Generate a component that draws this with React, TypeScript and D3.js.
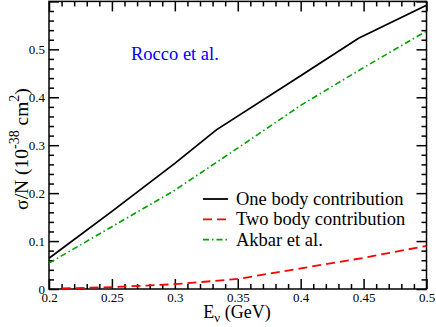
import { useEffect, useRef } from 'react';
import * as d3 from 'd3';

// One body contribution (Rocco et al.)
const oneBodyE = [0.2, 0.25, 0.3, 0.333, 0.4, 0.446, 0.5];
const oneBody = [0.064, 0.162, 0.262, 0.332, 0.445, 0.523, 0.592];

// Two body contribution
const twoBodyE = [0.21, 0.25, 0.3, 0.35, 0.4, 0.45, 0.5];
const twoBody = [0.001, 0.004, 0.01, 0.021, 0.043, 0.065, 0.09];

// Akbar et al.
const akbarE = [0.2, 0.25, 0.3, 0.35, 0.4, 0.45, 0.5];
const akbar = [0.054, 0.13, 0.206, 0.294, 0.383, 0.462, 0.538];

const xMajor = [0.2, 0.25, 0.3, 0.35, 0.4, 0.45, 0.5];
const xLabels = ['0.2', '0.25', '0.3', '0.35', '0.4', '0.45', '0.5'];
const yMajor = [0, 0.1, 0.2, 0.3, 0.4, 0.5, 0.6];
const yLabels = ['0', '0.1', '0.2', '0.3', '0.4', '0.5', ''];

const legendNames = ['One body contribution', 'Two body contribution', 'Akbar et al.'];

const W = 436, H = 327;
const margin = { top: 1.4, right: 9.5, bottom: 38, left: 49 };
const font = 'Liberation Serif, Times New Roman, Times, DejaVu Serif, serif';

export default function App() {
  const ref = useRef<SVGSVGElement>(null);

  useEffect(() => {
    document.body.style.margin = '0';
    const svg = d3.select(ref.current);
    svg.selectAll('*').remove();

    const x = d3.scaleLinear().domain([0.2, 0.5]).range([margin.left, W - margin.right]);
    const y = d3.scaleLinear().domain([0, 0.6]).range([H - margin.bottom, margin.top]);
    const x0 = margin.left, x1 = W - margin.right, y0 = H - margin.bottom, y1 = margin.top;

    const xMinor = d3.range(20, 51).map(d => d / 100).filter(d => !xMajor.some(m => Math.abs(m - d) < 1e-6));
    const yMinor = d3.range(0, 31).map(d => d / 50).filter(d => !yMajor.some(m => Math.abs(m - d) < 1e-6));

    const styleAxis = (g: any) => {
      g.select('.domain').remove();
      g.attr('font-family', null).attr('font-size', null);
      g.selectAll('line').attr('stroke', '#000').attr('stroke-width', 1.5);
      g.selectAll('text').style('font-family', font).style('font-size', '13px').attr('fill', '#000');
    };

    // bottom
    svg.append('g').attr('transform', `translate(0,${y0})`)
      .call(d3.axisBottom(x).tickValues(xMajor).tickSize(-10).tickPadding(4)
        .tickFormat((d, i) => xLabels[i]))
      .call(styleAxis);
    svg.append('g').attr('transform', `translate(0,${y0})`)
      .call(d3.axisBottom(x).tickValues(xMinor).tickSize(-5).tickFormat(() => ''))
      .call(styleAxis);
    // top
    svg.append('g').attr('transform', `translate(0,${y1})`)
      .call(d3.axisTop(x).tickValues(xMajor).tickSize(-10).tickFormat(() => ''))
      .call(styleAxis);
    svg.append('g').attr('transform', `translate(0,${y1})`)
      .call(d3.axisTop(x).tickValues(xMinor).tickSize(-5).tickFormat(() => ''))
      .call(styleAxis);
    // left
    svg.append('g').attr('transform', `translate(${x0},0)`)
      .call(d3.axisLeft(y).tickValues(yMajor).tickSize(-10).tickPadding(4)
        .tickFormat((d, i) => yLabels[i]))
      .call(styleAxis);
    svg.append('g').attr('transform', `translate(${x0},0)`)
      .call(d3.axisLeft(y).tickValues(yMinor).tickSize(-5).tickFormat(() => ''))
      .call(styleAxis);
    // right
    svg.append('g').attr('transform', `translate(${x1},0)`)
      .call(d3.axisRight(y).tickValues(yMajor).tickSize(-10).tickFormat(() => ''))
      .call(styleAxis);
    svg.append('g').attr('transform', `translate(${x1},0)`)
      .call(d3.axisRight(y).tickValues(yMinor).tickSize(-5).tickFormat(() => ''))
      .call(styleAxis);

    svg.append('rect')
      .attr('x', x0).attr('y', y1).attr('width', x1 - x0).attr('height', y0 - y1)
      .attr('fill', 'none').attr('stroke', '#000').attr('stroke-width', 1.5);

    const line = d3.line<[number, number]>().x(d => x(d[0])).y(d => y(d[1]));
    const series = [
      { e: oneBodyE, v: oneBody, color: '#000', dash: null, width: 1.8 },
      { e: twoBodyE, v: twoBody, color: '#ff0000', dash: '9,5', width: 1.8 },
      { e: akbarE, v: akbar, color: '#00a000', dash: '6,3,1.5,3', width: 1.6 },
    ];
    series.forEach(s => {
      svg.append('path')
        .datum(s.e.map((e, i) => [e, s.v[i]] as [number, number]))
        .attr('d', line)
        .attr('fill', 'none')
        .attr('stroke', s.color)
        .attr('stroke-width', s.width)
        .attr('stroke-dasharray', s.dash);
    });

    // legend
    const lg = svg.append('g');
    series.forEach((s, i) => {
      const ly = 199 + i * 20.3;
      lg.append('line').attr('x1', 203).attr('x2', 228).attr('y1', ly).attr('y2', ly)
        .attr('stroke', s.color).attr('stroke-width', s.width).attr('stroke-dasharray', s.dash);
      lg.append('text').attr('x', 236).attr('y', ly + 6)
        .style('font-family', font).style('font-size', '18.5px').attr('fill', '#000')
        .text(legendNames[i]);
    });

    svg.append('text').attr('x', 131).attr('y', 59.5)
      .style('font-family', font).style('font-size', '18.5px').attr('fill', '#0000ff')
      .text('Rocco et al.');

    // x title
    const xt = svg.append('text').attr('x', 237).attr('y', 318).attr('text-anchor', 'middle')
      .style('font-family', font).style('font-size', '18px').attr('fill', '#000');
    xt.append('tspan').text('E');
    xt.append('tspan').style('font-size', '13px').attr('dy', 4).text('ν');
    xt.append('tspan').attr('dy', -4).text(' (GeV)');

    // y title
    const yt = svg.append('text')
      .attr('transform', `translate(28,149) rotate(-90)`)
      .attr('text-anchor', 'middle')
      .style('font-family', font).style('font-size', '19.5px').attr('fill', '#000');
    yt.append('tspan').text('σ/N (10');
    yt.append('tspan').style('font-size', '14px').attr('dy', -9).text('-38');
    yt.append('tspan').attr('dy', 9).text(' cm');
    yt.append('tspan').style('font-size', '14px').attr('dy', -9).text('2');
    yt.append('tspan').attr('dy', 9).text(')');
  }, []);

  return <svg ref={ref} width={W} height={H} style={{ display: 'block', background: '#fff' }} />;
}
